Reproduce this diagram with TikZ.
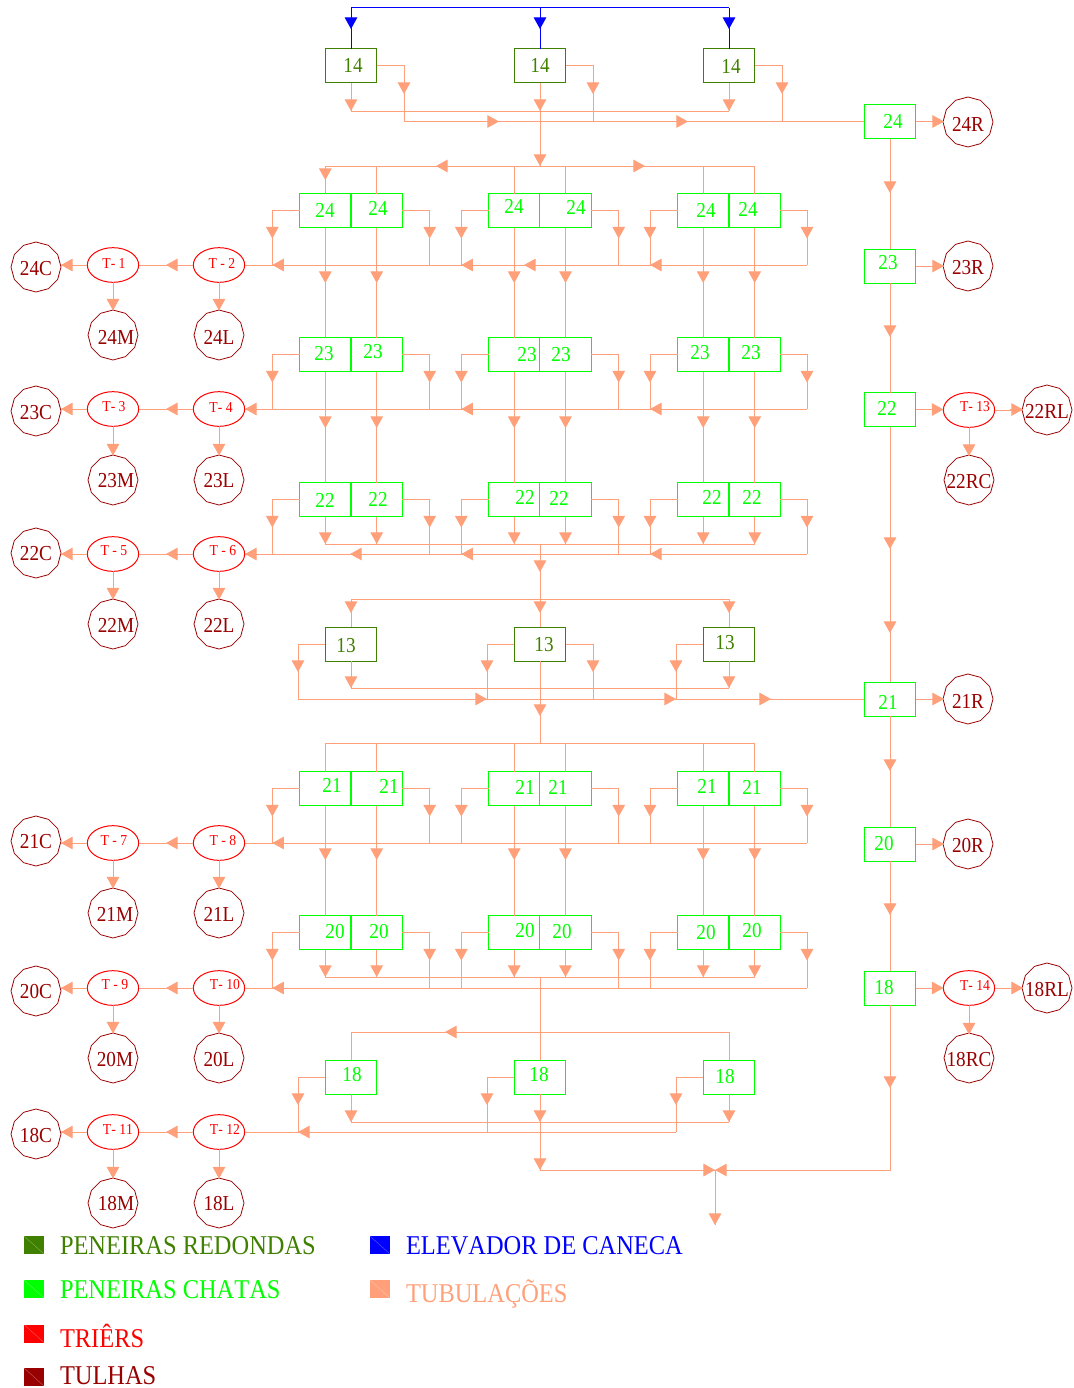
\documentclass[tikz,border=0pt]{standalone}
\usepackage{fontspec}
\setmainfont[FakeStretch=0.9,Kerning=Off]{Liberation Serif}
\usetikzlibrary{shapes.geometric,arrows.meta}
\definecolor{tubec}{HTML}{FFA07A}
\definecolor{roundc}{HTML}{408000}
\definecolor{flatc}{HTML}{00FF00}
\definecolor{trierc}{HTML}{FF0000}
\definecolor{tulhac}{HTML}{990000}
\definecolor{elevc}{HTML}{0000FF}
\tikzset{
  tube/.style={draw=tubec,line width=.75pt},
  elev/.style={draw=elevc,line width=.75pt},
  ah/.style={-{Triangle[length=8.7pt,width=9.4pt]}},
  box/.style={rectangle,draw,line width=.75pt,minimum width=38.5pt,minimum height=25.5pt,inner sep=0pt,outer sep=0pt},
  gbox/.style={box,draw=flatc},
  dbox/.style={box,draw=roundc},
  trier/.style={ellipse,draw=trierc,line width=.75pt,minimum width=38.5pt,minimum height=26pt,inner sep=0pt,outer sep=0pt},
  tulha/.style={regular polygon,regular polygon sides=12,shape border rotate=15,draw=tulhac,line width=.6pt,minimum size=37.5pt,inner sep=0pt,outer sep=0pt},
  lt/.style={inner sep=0pt,outer sep=0pt,font=\fontsize{16}{16}\selectfont},
  gl/.style={lt,text=flatc},
  dl/.style={lt,text=roundc},
  tl/.style={lt,text=trierc,font=\fontsize{11.4}{12}\selectfont},
  rl/.style={lt,text=tulhac},
  legt/.style={inner sep=0pt,outer sep=0pt,anchor=base west,font=\fontsize{20.35}{21}\selectfont},
  legs/.style={rectangle,inner sep=0pt,outer sep=0pt,minimum width=15pt,minimum height=13.5pt},
}
\newcommand\hdn[2]{\draw[tube,ah] (#1,#2-13) -- (#1,#2);}
\newcommand\hlf[2]{\draw[tube,ah] (#1+13,#2) -- (#1,#2);}
\newcommand\hrt[2]{\draw[tube,ah] (#1-13,#2) -- (#1,#2);}
\newcommand\lbl[5]{\node[#4] (#1) at (#2,#3) {#5};}
\begin{document}
\begin{tikzpicture}[x=.75pt,y=-.75pt]
\useasboundingbox (0,0) rectangle (1074,1388);
% ---------- screens ----------
\foreach \i/\x in {1/351,2/540,3/729}{
  \node[dbox] (k\i) at (\x,66) {};
  \node[dbox] (m\i) at (\x,644) {};
  \node[gbox] (s\i) at (\x,1077) {};
}
\foreach \r/\y in {a/210.5,b/354.5,c/499.5,d/788.5,e/932.5}{
  \foreach \i/\x in {1/325.3,2/376.7,3/514.2,4/565.5,5/703.2,6/754.7}{
    \node[gbox] (\r\i) at (\x,\y) {};
  }
}
\foreach \n/\y in {24/121.5,23/266,22/409.5,21/699,20/844,18/988}{
  \node[gbox] (R\n) at (890,\y) {};
}
% ---------- triers and bins, left ----------
\foreach \n/\ye/\yc/\yp in {1/265/267/335,2/409/411/480,3/554/553/624,4/843/841/913,5/988/991/1058,6/1132/1134/1203}{
  \node[trier] (TA\n) at (113,\ye) {};
  \node[trier] (TB\n) at (219,\ye) {};
  \node[tulha] (LC\n) at (36,\yc) {};
  \node[tulha] (LM\n) at (113,\yp) {};
  \node[tulha] (LL\n) at (219,\yp) {};
  \draw[tube] (TB\n.west) -- (TA\n.east);
  \hlf{166}{\ye}
  \draw[tube] (TA\n.west) -- (LC\n.east |- TA\n.west);
  \hlf{61}{\ye}
  \draw[tube] (TA\n.south) -- (LM\n.north);
  \hdn{113}{\yp-24.5}
  \draw[tube] (TB\n.south) -- (LL\n.north);
  \hdn{219}{\yp-24.5}
}
% ---------- right side ----------
\node[tulha] (P24) at (968,122) {};
\node[tulha] (P23) at (968,266) {};
\node[tulha] (P21) at (968,699) {};
\node[tulha] (P20) at (968,844) {};
\node[trier] (T13) at (969,410) {};
\node[trier] (T14) at (969,988) {};
\node[tulha] (P22L) at (1047,410) {};
\node[tulha] (P22C) at (969,480) {};
\node[tulha] (P18L) at (1047,988) {};
\node[tulha] (P18C) at (969,1058) {};
\foreach \n/\x/\y in {24/944/121.5,23/944/266,21/944/699,20/944/844}{
  \draw[tube] (R\n.east) -- (P\n.west |- R\n.east);
  \hrt{\x}{\y}
}
\foreach \n/\t/\y in {22/13/409.5,18/14/988}{
  \draw[tube] (R\n.east) -- (T\t.west |- R\n.east);
  \hrt{943.5}{\y}
  \draw[tube] (T\t.east) -- (P\n L.west);
  \hrt{1023}{\y}
  \draw[tube] (T\t.south) -- (P\n C.north);
  \hdn{969}{\y+46.5}
}
\draw[tube] (R24.south) -- (R23.north); \hdn{890}{193}
\draw[tube] (R23.south) -- (R22.north); \hdn{890}{337}
\draw[tube] (R22.south) -- (R21.north); \hdn{890}{549} \hdn{890}{633}
\draw[tube] (R21.south) -- (R20.north); \hdn{890}{771}
\draw[tube] (R20.south) -- (R18.north); \hdn{890}{915}
% ---------- elevator ----------
\coordinate (evL) at (351,8);
\coordinate (evR) at (729,8);
\draw[elev] (evL) -- (evR);
\foreach \i/\x in {1/351,2/540,3/729}{
  \draw[elev] (\x,8) -- (k\i.north);
  \draw[elev,ah] (\x,16) -- (\x,29);
}
% ---------- 14 row ----------
\coordinate (kS1) at (404,121.5);
\coordinate (kS2) at (593,121.5);
\coordinate (kS3) at (782,121.5);
\coordinate (kb) at (540,111);
\coordinate (f) at (540,166);
\foreach \i in {1,2,3}{
  \draw[tube] (k\i.east) -| (kS\i);
  \draw[tube] (k\i.south) -- (k\i.south |- kb);
}
\hdn{404}{94} \hdn{593}{94} \hdn{782}{94}
\hdn{351}{111} \hdn{540}{111} \hdn{729}{111}
\draw[tube] (k1.south |- kb) -- (k3.south |- kb);
\draw[tube] (kS1) -- (R24.west);
\hrt{499}{121.5} \hrt{688}{121.5}
\draw[tube] (kb) -- (f); \hdn{540}{166}
\draw[tube] (a1.north |- f) -- (a6.north |- f);
\hlf{436}{166} \hrt{645}{166}
\foreach \i in {1,...,6}{ \draw[tube] (a\i.north |- f) -- (a\i.north); }
\hdn{325.3}{180}
% ---------- double rows: sides and buses ----------
\foreach \r/\yb/\yt in {a/265/238.5,b/409/382.5,c/554/527.5,d/843/816.5,e/988/960.5}{
  \foreach \k/\x in {1/272.3,2/429.7,3/461.3,4/618.7,5/650,6/807}{
    \coordinate (\r S\k) at (\x,\yb);
    \hdn{\x}{\yt}
  }
  \draw[tube] (\r1.west) -| (\r S1);
  \draw[tube] (\r2.east) -| (\r S2);
  \draw[tube] (\r3.west) -| (\r S3);
  \draw[tube] (\r4.east) -| (\r S4);
  \draw[tube] (\r5.west) -| (\r S5);
  \draw[tube] (\r6.east) -| (\r S6);
}
\draw[tube] (TB1.east) -- (aS6);
\draw[tube] (TB2.east) -- (bS6);
\draw[tube] (TB3.east) -- (cS6);
\draw[tube] (TB4.east) -- (dS6);
\draw[tube] (TB5.east) -- (eS6);
\hlf{272.3}{265} \hlf{461.3}{265} \hlf{524}{265} \hlf{650}{265}
\hlf{245}{409} \hlf{461.3}{409} \hlf{650}{409}
\hlf{245}{554} \hlf{350}{554} \hlf{461.3}{554} \hlf{650}{554}
\hlf{272.3}{843}
\hlf{272.3}{988}
% ---------- vertical links between rows ----------
\foreach \i/\x in {1/325.3,2/376.7,3/514.2,4/565.5,5/703.2,6/754.7}{
  \draw[tube] (a\i.south) -- (b\i.north); \hdn{\x}{283}
  \draw[tube] (b\i.south) -- (c\i.north); \hdn{\x}{428}
  \draw[tube] (d\i.south) -- (e\i.north); \hdn{\x}{860}
  \coordinate (cm\i) at (\x,544);
  \coordinate (em\i) at (\x,977);
  \draw[tube] (c\i.south) -- (cm\i); \hdn{\x}{544}
  \draw[tube] (e\i.south) -- (em\i); \hdn{\x}{977}
}
\draw[tube] (cm1) -- (cm6);
\draw[tube] (em1) -- (em6);
% ---------- 13 row ----------
\coordinate (cj) at (540,544);
\coordinate (tj) at (540,599);
\draw[tube] (cj) -- (tj); \hdn{540}{572}
\draw[tube] (m1.north |- tj) -- (m3.north |- tj);
\foreach \i/\x in {1/351,2/540,3/729}{
  \draw[tube] (m\i.north |- tj) -- (m\i.north);
  \hdn{\x}{613}
}
\coordinate (mS1) at (298,699);
\coordinate (mS2) at (487,699);
\coordinate (mS3) at (593,699);
\coordinate (mS4) at (676,699);
\draw[tube] (m1.west) -| (mS1);
\draw[tube] (m2.west) -| (mS2);
\draw[tube] (m2.east) -| (mS3);
\draw[tube] (m3.west) -| (mS4);
\hdn{298}{672} \hdn{487}{672} \hdn{593}{672} \hdn{676}{672}
\draw[tube] (mS1) -- (R21.west);
\hrt{487}{699} \hrt{676}{699} \hrt{771}{699}
\coordinate (mb) at (540,688);
\draw[tube] (m1.south) -- (m1.south |- mb); \hdn{351}{688}
\draw[tube] (m3.south) -- (m3.south |- mb); \hdn{729}{688}
\draw[tube] (m1.south |- mb) -- (m3.south |- mb);
\coordinate (gj) at (540,743);
\draw[tube] (m2.south) -- (gj); \hdn{540}{716}
\draw[tube] (d1.north |- gj) -- (d6.north |- gj);
\foreach \i in {1,...,6}{ \draw[tube] (d\i.north |- gj) -- (d\i.north); }
% ---------- 18 row ----------
\coordinate (ej) at (540,977);
\coordinate (hj) at (540,1032);
\draw[tube] (ej) -- (s2.north);
\draw[tube] (s1.north |- hj) -- (s3.north |- hj);
\draw[tube] (s1.north |- hj) -- (s1.north);
\draw[tube] (s3.north |- hj) -- (s3.north);
\hlf{445}{1032}
\coordinate (sS1) at (298,1132);
\coordinate (sS2) at (487,1132);
\coordinate (sS3) at (676,1132);
\foreach \i in {1,2,3}{ \draw[tube] (s\i.west) -| (sS\i); }
\hdn{298}{1105} \hdn{487}{1105} \hdn{676}{1105}
\draw[tube] (TB6.east) -- (sS3);
\hlf{298}{1132}
\coordinate (sb) at (540,1122);
\draw[tube] (s1.south) -- (s1.south |- sb); \hdn{351}{1122}
\draw[tube] (s3.south) -- (s3.south |- sb); \hdn{729}{1122}
\draw[tube] (s1.south |- sb) -- (s3.south |- sb);
\hdn{540}{1122}
\coordinate (xa) at (540,1170);
\coordinate (xb) at (715,1170);
\coordinate (xc) at (715,1225);
\draw[tube] (s2.south) -- (xa); \hdn{540}{1170}
\draw[tube] (xa) -- (xb);
\draw[tube] (R18.south) |- (xb);
\hrt{715}{1170} \hlf{715}{1170}
\draw[tube] (xb) -- (xc); \hdn{715}{1225}
\hdn{890}{1088}
% ---------- screen labels ----------
\lbl{lk1}{353}{65}{dl}{14} \lbl{lk2}{540}{65}{dl}{14} \lbl{lk3}{731}{66}{dl}{14}
\lbl{la1}{325}{210}{gl}{24} \lbl{la2}{378}{208}{gl}{24} \lbl{la3}{514}{206}{gl}{24}
\lbl{la4}{576}{207}{gl}{24} \lbl{la5}{706}{210}{gl}{24} \lbl{la6}{748}{209}{gl}{24}
\lbl{lb1}{324}{354}{gl}{23} \lbl{lb2}{373}{352}{gl}{23} \lbl{lb3}{527}{355}{gl}{23}
\lbl{lb4}{561}{355}{gl}{23} \lbl{lb5}{700}{353}{gl}{23} \lbl{lb6}{751}{353}{gl}{23}
\lbl{lc1}{325}{500}{gl}{22} \lbl{lc2}{378}{499}{gl}{22} \lbl{lc3}{525}{497}{gl}{22}
\lbl{lc4}{559}{498}{gl}{22} \lbl{lc5}{712}{497}{gl}{22} \lbl{lc6}{752}{497}{gl}{22}
\lbl{lm1}{346}{646}{dl}{13} \lbl{lm2}{544}{645}{dl}{13} \lbl{lm3}{725}{643}{dl}{13}
\lbl{ld1}{332}{785}{gl}{21} \lbl{ld2}{389}{786}{gl}{21} \lbl{ld3}{525}{787}{gl}{21}
\lbl{ld4}{558}{787}{gl}{21} \lbl{ld5}{707}{786}{gl}{21} \lbl{ld6}{752}{787}{gl}{21}
\lbl{le1}{335}{931}{gl}{20} \lbl{le2}{379}{931}{gl}{20} \lbl{le3}{525}{930}{gl}{20}
\lbl{le4}{562}{931}{gl}{20} \lbl{le5}{706}{932}{gl}{20} \lbl{le6}{752}{930}{gl}{20}
\lbl{ls1}{352}{1074}{gl}{18} \lbl{ls2}{539}{1074}{gl}{18} \lbl{ls3}{725}{1076}{gl}{18}
\lbl{lR24}{893}{121}{gl}{24} \lbl{lR23}{888}{263}{gl}{23} \lbl{lR22}{887}{408}{gl}{22}
\lbl{lR21}{888}{702}{gl}{21} \lbl{lR20}{884}{843}{gl}{20} \lbl{lR18}{884}{987}{gl}{18}
% ---------- trier labels ----------
\lbl{lt1}{114}{263}{tl}{T- 1} \lbl{lt2}{222}{263}{tl}{T - 2}
\lbl{lt3}{114}{407}{tl}{T- 3} \lbl{lt4}{221}{407}{tl}{T- 4}
\lbl{lt5}{114}{551}{tl}{T - 5} \lbl{lt6}{223}{551}{tl}{T - 6}
\lbl{lt7}{114}{841}{tl}{T - 7} \lbl{lt8}{223}{841}{tl}{T - 8}
\lbl{lt9}{115}{985}{tl}{T - 9} \lbl{lt10}{225}{985}{tl}{T- 10}
\lbl{lt11}{118}{1129}{tl}{T- 11} \lbl{lt12}{225}{1129}{tl}{T- 12}
\lbl{lt13}{975}{407}{tl}{T- 13} \lbl{lt14}{975}{985}{tl}{T- 14}
% ---------- bin labels ----------
\lbl{lp1}{36}{269}{rl}{24C} \lbl{lp2}{116}{337}{rl}{24M} \lbl{lp3}{219}{337}{rl}{24L}
\lbl{lp4}{36}{413}{rl}{23C} \lbl{lp5}{116}{481}{rl}{23M} \lbl{lp6}{219}{481}{rl}{23L}
\lbl{lp7}{36}{554}{rl}{22C} \lbl{lp8}{116}{625}{rl}{22M} \lbl{lp9}{219}{625}{rl}{22L}
\lbl{lp10}{36}{842}{rl}{21C} \lbl{lp11}{115}{914}{rl}{21M} \lbl{lp12}{219}{914}{rl}{21L}
\lbl{lp13}{36}{991}{rl}{20C} \lbl{lp14}{115}{1059}{rl}{20M} \lbl{lp15}{219}{1059}{rl}{20L}
\lbl{lp16}{36}{1135}{rl}{18C} \lbl{lp17}{116}{1203}{rl}{18M} \lbl{lp18}{219}{1203}{rl}{18L}
\lbl{lp19}{968}{124}{rl}{24R} \lbl{lp20}{968}{268}{rl}{23R} \lbl{lp21}{1047}{411}{rl}{22RL}
\lbl{lp22}{969}{482}{rl}{22RC} \lbl{lp23}{968}{701}{rl}{21R} \lbl{lp24}{968}{846}{rl}{20R}
\lbl{lp25}{1047}{989}{rl}{18RL} \lbl{lp26}{969}{1059}{rl}{18RC}
% ---------- legend ----------
\foreach \n/\x/\y/\c in {1/34/1245/roundc,2/34/1289/flatc,3/34/1333.5/trierc,4/34/1377/tulhac,5/380/1245/elevc,6/380/1289/tubec}{
  \node[legs,fill=\c] (sq\n) at (\x,\y) {};
  \draw[white,opacity=.35,line width=.3pt] (sq\n.north west) -- (sq\n.south east);
}
\node[legt,text=roundc] (tx1) at (60,1254) {PENEIRAS REDONDAS};
\node[legt,text=flatc] (tx2) at (60,1298) {PENEIRAS CHATAS};
\node[legt,text=trierc] (tx3) at (60,1347) {TRIÊRS};
\node[legt,text=tulhac] (tx4) at (60,1384) {TULHAS};
\node[legt,text=elevc] (tx5) at (406,1254) {ELEVADOR DE CANECA};
\node[legt,text=tubec] (tx6) at (406,1302) {TUBULAÇÕES};
\end{tikzpicture}
\end{document}
